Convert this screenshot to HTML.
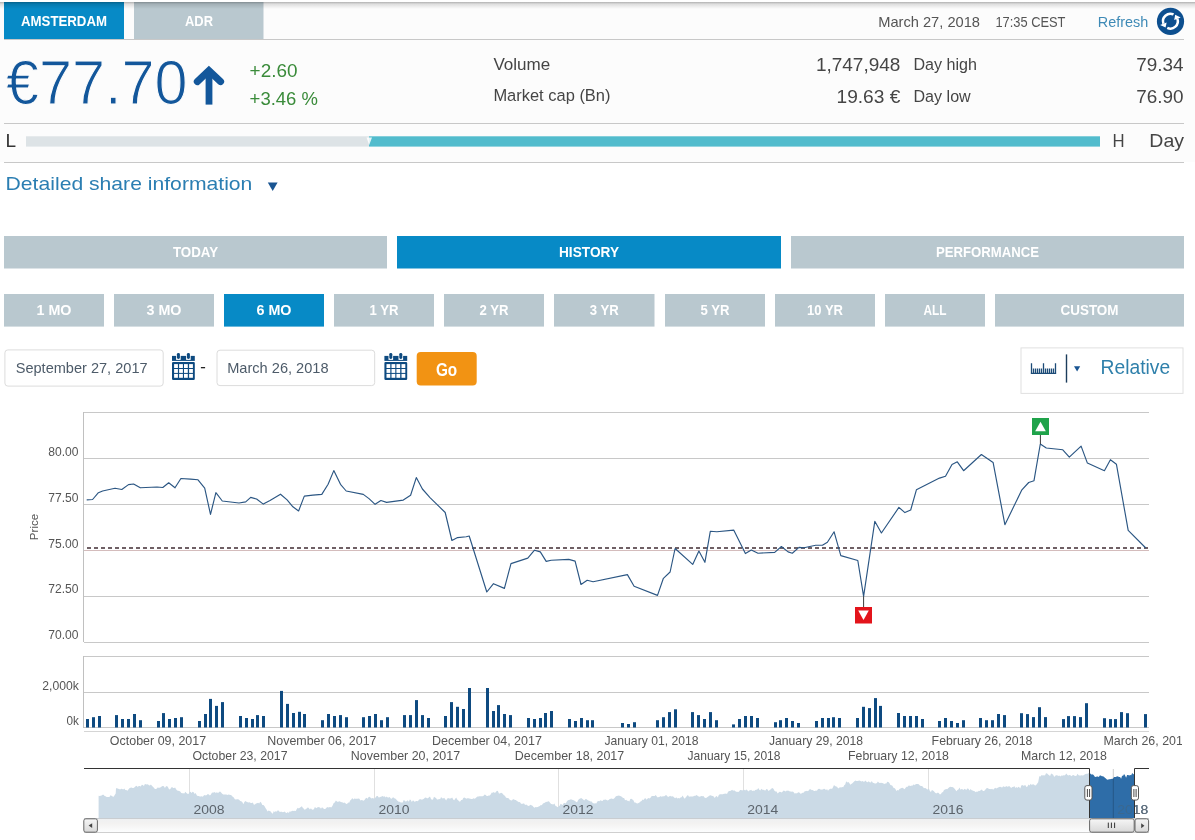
<!DOCTYPE html>
<html><head><meta charset="utf-8"><title>Share price</title>
<style>
html,body{margin:0;padding:0;background:#fff;width:1195px;height:840px;overflow:hidden;}
svg{display:block;font-family:"Liberation Sans", sans-serif;will-change:transform;}
</style></head><body>
<svg width="1195" height="840" viewBox="0 0 1195 840">
<defs>
<linearGradient id="shadow" x1="0" y1="0" x2="0" y2="1"><stop offset="0" stop-color="#000" stop-opacity="0.3"/><stop offset="0.3" stop-color="#000" stop-opacity="0.12"/><stop offset="1" stop-color="#000" stop-opacity="0"/></linearGradient>
<linearGradient id="track" x1="0" y1="0" x2="0" y2="1"><stop offset="0" stop-color="#eef0f2"/><stop offset="0.4" stop-color="#f3f2f1"/><stop offset="1" stop-color="#fcfdfe"/></linearGradient>
<linearGradient id="thumb" x1="0" y1="0" x2="0" y2="1"><stop offset="0" stop-color="#f6f6f6"/><stop offset="1" stop-color="#d8d8d8"/></linearGradient>
</defs>
<rect width="1195" height="840" fill="#fff"/>
<rect x="0" y="2" width="1195" height="160" fill="#fcfcfc"/>
<rect x="4" y="2" width="120" height="37" fill="#078ac6"/>
<text x="64" y="26" font-size="14.2" fill="#fff" font-weight="bold" text-anchor="middle" textLength="86" lengthAdjust="spacingAndGlyphs" >AMSTERDAM</text>
<rect x="134" y="2" width="129.5" height="37" fill="#b9c8cf"/>
<text x="199" y="26" font-size="14.2" fill="#fff" font-weight="bold" text-anchor="middle" textLength="28" lengthAdjust="spacingAndGlyphs" >ADR</text>
<rect x="0" y="2" width="1195" height="7" fill="url(#shadow)"/>
<text x="878.2" y="27.2" font-size="14.5" fill="#555" font-weight="normal" text-anchor="start" textLength="101.8" lengthAdjust="spacingAndGlyphs" >March 27, 2018</text>
<text x="995.4" y="27.2" font-size="14.5" fill="#555" font-weight="normal" text-anchor="start" textLength="70.1" lengthAdjust="spacingAndGlyphs" >17:35 CEST</text>
<text x="1097.8" y="26.5" font-size="14.4" fill="#3e8ab6" font-weight="normal" text-anchor="start" textLength="50.5" lengthAdjust="spacingAndGlyphs" >Refresh</text>
<circle cx="1170.5" cy="21.4" r="13.6" fill="#0d4f8f"/>
<g fill="none" stroke="#fff" stroke-width="2.5"><path d="M1173.53 14.49 A7.4 7.4 0 0 0 1163.45 23.73"/><path d="M1167.27 27.91 A7.4 7.4 0 0 0 1177.35 18.67"/></g>
<path d="M1166.6 22.4 L1160.1 24.9 L1165.6 27.6 Z" fill="#fff"/>
<path d="M1174.2 20.0 L1180.7 17.5 L1175.2 14.8 Z" fill="#fff"/>
<rect x="4" y="39" width="1180" height="1" fill="#c8c8c8"/>
<text x="6" y="103.9" font-size="63" fill="#13579b" font-weight="normal" text-anchor="start" textLength="181.6" lengthAdjust="spacingAndGlyphs" stroke="#fcfcfc" stroke-width="1.1">€77.70</text>
<rect x="205.6" y="73" width="6.8" height="31.6" fill="#13579b"/>
<path d="M197.3 81.6 L208.9 70.6 L220.6 81.6" fill="none" stroke="#13579b" stroke-width="7" stroke-linecap="round" stroke-linejoin="miter"/>
<text x="249.6" y="76.8" font-size="19" fill="#3a8b3a" font-weight="normal" text-anchor="start" textLength="47.9" lengthAdjust="spacingAndGlyphs" >+2.60</text>
<text x="249.6" y="104.9" font-size="19" fill="#3a8b3a" font-weight="normal" text-anchor="start" textLength="68.3" lengthAdjust="spacingAndGlyphs" >+3.46 %</text>
<text x="493.4" y="69.8" font-size="16.3" fill="#454545" font-weight="normal" text-anchor="start" textLength="56.9" lengthAdjust="spacingAndGlyphs" >Volume</text>
<text x="493.4" y="101.2" font-size="16.3" fill="#454545" font-weight="normal" text-anchor="start" textLength="117.1" lengthAdjust="spacingAndGlyphs" >Market cap (Bn)</text>
<text x="900.4" y="70.9" font-size="19" fill="#454545" font-weight="normal" text-anchor="end" textLength="84.5" lengthAdjust="spacingAndGlyphs" >1,747,948</text>
<text x="900.4" y="102.7" font-size="19" fill="#454545" font-weight="normal" text-anchor="end" textLength="63.9" lengthAdjust="spacingAndGlyphs" >19.63 €</text>
<text x="913.5" y="70.1" font-size="16.3" fill="#454545" font-weight="normal" text-anchor="start" textLength="63.5" lengthAdjust="spacingAndGlyphs" >Day high</text>
<text x="913.5" y="101.5" font-size="16.3" fill="#454545" font-weight="normal" text-anchor="start" textLength="57.2" lengthAdjust="spacingAndGlyphs" >Day low</text>
<text x="1183.6" y="71.1" font-size="19" fill="#454545" font-weight="normal" text-anchor="end" textLength="47.3" lengthAdjust="spacingAndGlyphs" >79.34</text>
<text x="1183.6" y="102.9" font-size="19" fill="#454545" font-weight="normal" text-anchor="end" textLength="47.3" lengthAdjust="spacingAndGlyphs" >76.90</text>
<rect x="4" y="123" width="1180" height="1" fill="#c8c8c8"/>
<text x="5.6" y="147" font-size="19" fill="#333" font-weight="normal" text-anchor="start" >L</text>
<rect x="26" y="136.3" width="343" height="10.3" fill="#dde3e6"/>
<rect x="369" y="136.3" width="731" height="10.3" fill="#52bccd"/>
<path d="M366.5 137.5 L372 137.5 L369.2 145 Z" fill="#fff" opacity="0.85"/>
<text x="1112.5" y="147" font-size="19" fill="#454545" font-weight="normal" text-anchor="start" textLength="12.1" lengthAdjust="spacingAndGlyphs" >H</text>
<text x="1149.3" y="147" font-size="19" fill="#454545" font-weight="normal" text-anchor="start" textLength="34.7" lengthAdjust="spacingAndGlyphs" >Day</text>
<rect x="4" y="162" width="1180" height="1" fill="#c8c8c8"/>
<text x="5.6" y="190.4" font-size="19" fill="#2b7eb2" font-weight="normal" text-anchor="start" textLength="246.8" lengthAdjust="spacingAndGlyphs" >Detailed share information</text>
<path d="M267.8 182.4 L277.6 182.4 L272.7 191.1 Z" fill="#1a5592"/>
<rect x="4" y="236" width="383" height="32.5" fill="#b9c8cf"/>
<text x="195.5" y="256.8" font-size="14.2" fill="#fff" font-weight="bold" text-anchor="middle" textLength="45.2" lengthAdjust="spacingAndGlyphs" >TODAY</text>
<rect x="397" y="236" width="384" height="32.5" fill="#078ac6"/>
<text x="589.0" y="256.8" font-size="14.2" fill="#fff" font-weight="bold" text-anchor="middle" textLength="60" lengthAdjust="spacingAndGlyphs" >HISTORY</text>
<rect x="791" y="236" width="393" height="32.5" fill="#b9c8cf"/>
<text x="987.5" y="256.8" font-size="14.2" fill="#fff" font-weight="bold" text-anchor="middle" textLength="103" lengthAdjust="spacingAndGlyphs" >PERFORMANCE</text>
<rect x="4" y="294" width="100" height="32.60000000000002" fill="#b9c8cf"/>
<text x="54.0" y="314.9" font-size="14.2" fill="#fff" font-weight="bold" text-anchor="middle" textLength="35" lengthAdjust="spacingAndGlyphs" >1 MO</text>
<rect x="114" y="294" width="100" height="32.60000000000002" fill="#b9c8cf"/>
<text x="164.0" y="314.9" font-size="14.2" fill="#fff" font-weight="bold" text-anchor="middle" textLength="35" lengthAdjust="spacingAndGlyphs" >3 MO</text>
<rect x="224" y="294" width="100" height="32.60000000000002" fill="#078ac6"/>
<text x="274.0" y="314.9" font-size="14.2" fill="#fff" font-weight="bold" text-anchor="middle" textLength="35" lengthAdjust="spacingAndGlyphs" >6 MO</text>
<rect x="334" y="294" width="100" height="32.60000000000002" fill="#b9c8cf"/>
<text x="384.0" y="314.9" font-size="14.2" fill="#fff" font-weight="bold" text-anchor="middle" textLength="29" lengthAdjust="spacingAndGlyphs" >1 YR</text>
<rect x="444" y="294" width="100" height="32.60000000000002" fill="#b9c8cf"/>
<text x="494.0" y="314.9" font-size="14.2" fill="#fff" font-weight="bold" text-anchor="middle" textLength="29" lengthAdjust="spacingAndGlyphs" >2 YR</text>
<rect x="554" y="294" width="100.5" height="32.60000000000002" fill="#b9c8cf"/>
<text x="604.2" y="314.9" font-size="14.2" fill="#fff" font-weight="bold" text-anchor="middle" textLength="29" lengthAdjust="spacingAndGlyphs" >3 YR</text>
<rect x="665" y="294" width="100" height="32.60000000000002" fill="#b9c8cf"/>
<text x="715.0" y="314.9" font-size="14.2" fill="#fff" font-weight="bold" text-anchor="middle" textLength="29" lengthAdjust="spacingAndGlyphs" >5 YR</text>
<rect x="775" y="294" width="100" height="32.60000000000002" fill="#b9c8cf"/>
<text x="825.0" y="314.9" font-size="14.2" fill="#fff" font-weight="bold" text-anchor="middle" textLength="36" lengthAdjust="spacingAndGlyphs" >10 YR</text>
<rect x="885" y="294" width="100" height="32.60000000000002" fill="#b9c8cf"/>
<text x="935.0" y="314.9" font-size="14.2" fill="#fff" font-weight="bold" text-anchor="middle" textLength="23" lengthAdjust="spacingAndGlyphs" >ALL</text>
<rect x="995" y="294" width="189" height="32.60000000000002" fill="#b9c8cf"/>
<text x="1089.5" y="314.9" font-size="14.2" fill="#fff" font-weight="bold" text-anchor="middle" textLength="58" lengthAdjust="spacingAndGlyphs" >CUSTOM</text>
<rect x="4.9" y="349.9" width="158.3" height="36.2" rx="3" fill="#fff" stroke="#dcdcdc" stroke-width="1"/>
<text x="15.7" y="373.1" font-size="14.6" fill="#4d5b69" font-weight="normal" text-anchor="start" textLength="131.9" lengthAdjust="spacingAndGlyphs" >September 27, 2017</text>
<rect x="217" y="350.2" width="157.7" height="35.4" rx="3" fill="#fff" stroke="#dcdcdc" stroke-width="1"/>
<text x="227.2" y="373.1" font-size="14.6" fill="#4d5b69" font-weight="normal" text-anchor="start" textLength="101.4" lengthAdjust="spacingAndGlyphs" >March 26, 2018</text>
<rect x="172" y="355.9" width="22.8" height="5" fill="#0d4a80"/><rect x="176.1" y="353.9" width="4.6" height="6" fill="#fff"/><rect x="176.9" y="352.9" width="3" height="6" rx="1.4" fill="#0d4a80"/><rect x="186.1" y="353.9" width="4.6" height="6" fill="#fff"/><rect x="186.9" y="352.9" width="3" height="6" rx="1.4" fill="#0d4a80"/><rect x="172" y="361.9" width="22.8" height="18" rx="1.2" fill="#0d4a80"/><rect x="174.1" y="364.09999999999997" width="3.8" height="3.9" fill="#fff"/><rect x="174.1" y="369.0" width="3.8" height="3.9" fill="#fff"/><rect x="174.1" y="373.9" width="3.8" height="3.9" fill="#fff"/><rect x="179.1" y="364.09999999999997" width="3.8" height="3.9" fill="#fff"/><rect x="179.1" y="369.0" width="3.8" height="3.9" fill="#fff"/><rect x="179.1" y="373.9" width="3.8" height="3.9" fill="#fff"/><rect x="184.0" y="364.09999999999997" width="3.8" height="3.9" fill="#fff"/><rect x="184.0" y="369.0" width="3.8" height="3.9" fill="#fff"/><rect x="184.0" y="373.9" width="3.8" height="3.9" fill="#fff"/><rect x="189.1" y="364.09999999999997" width="3.8" height="3.9" fill="#fff"/><rect x="189.1" y="369.0" width="3.8" height="3.9" fill="#fff"/><rect x="189.1" y="373.9" width="3.8" height="3.9" fill="#fff"/>
<rect x="384.4" y="355.9" width="22.8" height="5" fill="#0d4a80"/><rect x="388.49999999999994" y="353.9" width="4.6" height="6" fill="#fff"/><rect x="389.29999999999995" y="352.9" width="3" height="6" rx="1.4" fill="#0d4a80"/><rect x="398.49999999999994" y="353.9" width="4.6" height="6" fill="#fff"/><rect x="399.29999999999995" y="352.9" width="3" height="6" rx="1.4" fill="#0d4a80"/><rect x="384.4" y="361.9" width="22.8" height="18" rx="1.2" fill="#0d4a80"/><rect x="386.5" y="364.09999999999997" width="3.8" height="3.9" fill="#fff"/><rect x="386.5" y="369.0" width="3.8" height="3.9" fill="#fff"/><rect x="386.5" y="373.9" width="3.8" height="3.9" fill="#fff"/><rect x="391.5" y="364.09999999999997" width="3.8" height="3.9" fill="#fff"/><rect x="391.5" y="369.0" width="3.8" height="3.9" fill="#fff"/><rect x="391.5" y="373.9" width="3.8" height="3.9" fill="#fff"/><rect x="396.4" y="364.09999999999997" width="3.8" height="3.9" fill="#fff"/><rect x="396.4" y="369.0" width="3.8" height="3.9" fill="#fff"/><rect x="396.4" y="373.9" width="3.8" height="3.9" fill="#fff"/><rect x="401.5" y="364.09999999999997" width="3.8" height="3.9" fill="#fff"/><rect x="401.5" y="369.0" width="3.8" height="3.9" fill="#fff"/><rect x="401.5" y="373.9" width="3.8" height="3.9" fill="#fff"/>
<rect x="200.9" y="367" width="4.2" height="1.3" fill="#222"/>
<rect x="416.7" y="352.1" width="60" height="33.5" rx="4" fill="#f29313"/>
<text x="446.6" y="376.2" font-size="17.5" fill="#fff" font-weight="bold" text-anchor="middle" textLength="21.3" lengthAdjust="spacingAndGlyphs" >Go</text>
<rect x="1021" y="347.9" width="162" height="45.5" fill="#fff" stroke="#e0e0e0" stroke-width="1"/>
<path d="M1030.8 373.4 H1056.2 M1031.5 363.2 V373.4 M1033.5 368.4 V373.4 M1035.5 368.4 V373.4 M1037.5 368.4 V373.4 M1039.5 368.4 V373.4 M1041.5 368.4 V373.4 M1043.5 363.2 V373.4 M1045.5 368.4 V373.4 M1047.5 368.4 V373.4 M1049.5 368.4 V373.4 M1051.5 368.4 V373.4 M1053.5 368.4 V373.4 M1055.5 363.2 V373.4" stroke="#1c4b77" stroke-width="1.3" fill="none"/>
<rect x="1065.8" y="354.4" width="1.4" height="28.2" fill="#1c3c5c"/>
<path d="M1074 366.2 L1080.2 366.2 L1077.1 371.5 Z" fill="#1a5592"/>
<text x="1100.6" y="373.7" font-size="19.3" fill="#2f80ab" font-weight="normal" text-anchor="start" textLength="69.6" lengthAdjust="spacingAndGlyphs" >Relative</text>
<rect x="84" y="412" width="1065" height="1" fill="#c8c8c8"/>
<rect x="84" y="458" width="1065" height="1" fill="#c8c8c8"/>
<rect x="84" y="504" width="1065" height="1" fill="#c8c8c8"/>
<rect x="84" y="596" width="1065" height="1" fill="#c8c8c8"/>
<rect x="84" y="642" width="1065" height="1" fill="#c8c8c8"/>
<rect x="84" y="550" width="1065" height="1" fill="#d4bcbc"/>
<rect x="83" y="412" width="1" height="230" fill="#c0c0c0"/>
<text x="78.5" y="455.7" font-size="12" fill="#555" font-weight="normal" text-anchor="end" textLength="30.2" lengthAdjust="spacingAndGlyphs" >80.00</text>
<text x="78.5" y="501.6" font-size="12" fill="#555" font-weight="normal" text-anchor="end" textLength="30.2" lengthAdjust="spacingAndGlyphs" >77.50</text>
<text x="78.5" y="547.5" font-size="12" fill="#555" font-weight="normal" text-anchor="end" textLength="30.2" lengthAdjust="spacingAndGlyphs" >75.00</text>
<text x="78.5" y="593.4" font-size="12" fill="#555" font-weight="normal" text-anchor="end" textLength="30.2" lengthAdjust="spacingAndGlyphs" >72.50</text>
<text x="78.5" y="639.3" font-size="12" fill="#555" font-weight="normal" text-anchor="end" textLength="30.2" lengthAdjust="spacingAndGlyphs" >70.00</text>
<text x="0" y="0" font-size="11.6" fill="#555" text-anchor="middle" textLength="26.4" lengthAdjust="spacingAndGlyphs" transform="translate(37.9 527) rotate(-90)">Price</text>
<line x1="87" y1="548" x2="1149" y2="548" stroke="#6f6065" stroke-width="2" stroke-dasharray="4 3"/>
<path d="M86.7 499.9 L92.6 499.5 L98.4 492.7 L102.6 491 L109.3 489.5 L115.1 488.3 L121.8 489.5 L128.5 484.6 L133.6 484 L140.3 487.8 L157 487 L162.8 487.5 L168.7 482.8 L175 487.8 L180.9 478.5 L190.5 479.1 L198 479.8 L204.7 488.2 L210.5 514.4 L215.9 492.7 L222.3 501 L239 503 L245.7 501.9 L250.7 497.4 L256.6 499 L263.3 504.1 L270 500.5 L280.5 494.2 L287.1 499.9 L292.9 506.8 L298.6 511 L304.3 496.1 L312.9 495.1 L321.8 494.4 L328.1 484.3 L333.8 470.6 L340.5 484.3 L346.2 491 L363.3 494.4 L369 498.6 L375.1 504.3 L380.9 500.5 L386.6 502.4 L403.3 500.1 L410.6 495.3 L416.3 477.6 L422.4 489 L430 497.6 L445.2 512.5 L451.9 540.5 L457.6 537.6 L466.2 536.7 L469.2 536 L486.8 592 L493.5 583.7 L504.4 588.4 L511 563.6 L527.8 558.1 L534.5 550.2 L540.3 551.9 L546.2 561.4 L551.2 560.3 L568.8 559.4 L575.1 561.1 L581 584.5 L587.2 580.3 L593.1 581.7 L627.4 574.6 L634.1 586.2 L657.5 595.4 L663.4 578.3 L670.1 572 L675.1 548.5 L692.7 564.4 L698.9 551 L704.9 562.3 L710.3 531.3 L716.9 531.8 L733.7 530.1 L745.4 553.6 L751.3 549.9 L758 553.2 L774.7 552.4 L781.4 546.5 L788.1 551.9 L792.3 553.2 L799 547.4 L804 547.7 L815.7 545.2 L822.4 545.2 L827.4 542.2 L834.1 531.8 L840.8 555.6 L857.8 560.5 L863.6 596.4 L874.8 521.3 L881.4 533 L898.9 507.4 L904.9 512.6 L910.7 510 L916.4 489.8 L939.5 478.1 L945.5 476.2 L952 464.5 L957.3 461.8 L963.6 470.7 L981.4 454.5 L993.1 462.4 L1004.9 524.7 L1021.9 489.8 L1028.7 482.5 L1034 480.7 L1040.3 444 L1046.3 448 L1062.8 449.8 L1069.3 457.1 L1081.1 446.1 L1087.4 463.1 L1104.4 470.7 L1110.4 459.7 L1116.4 464.2 L1128.2 530.4 L1145.8 548" fill="none" stroke="#2b5683" stroke-width="1.15" stroke-linejoin="round"/>
<line x1="863.6" y1="596.4" x2="863.6" y2="607" stroke="#3a3a3a" stroke-width="1"/>
<rect x="855" y="607" width="17" height="16.5" fill="#e3141b"/>
<path d="M858.2 610.6 L868.8 610.6 L863.5 620 Z" fill="#fff"/>
<line x1="1040.4" y1="435" x2="1040.4" y2="444" stroke="#3a3a3a" stroke-width="1"/>
<rect x="1032" y="418" width="17" height="17" fill="#1fa34a"/>
<path d="M1035.2 431.2 L1045.8 431.2 L1040.5 421.8 Z" fill="#fff"/>
<rect x="84" y="656" width="1065" height="1" fill="#c8c8c8"/>
<rect x="84" y="692" width="1065" height="1" fill="#c8c8c8"/>
<rect x="84" y="727" width="1065" height="1" fill="#c8c8c8"/>
<rect x="84" y="731" width="1065" height="1" fill="#d5d5d5"/>
<rect x="83" y="656" width="1" height="72" fill="#c0c0c0"/>
<text x="78.9" y="689.6" font-size="12" fill="#555" font-weight="normal" text-anchor="end" textLength="36.6" lengthAdjust="spacingAndGlyphs" >2,000k</text>
<text x="78.9" y="724.6" font-size="12" fill="#555" font-weight="normal" text-anchor="end" textLength="12.4" lengthAdjust="spacingAndGlyphs" >0k</text>
<g fill="#0e4a80"><rect x="86" y="719" width="3" height="8.5"/><rect x="92" y="717.2" width="3" height="10.3"/><rect x="98" y="716" width="3" height="11.5"/><rect x="115" y="715.1" width="3" height="12.4"/><rect x="121" y="719" width="3" height="8.5"/><rect x="127" y="719" width="3" height="8.5"/><rect x="133" y="714" width="3" height="13.5"/><rect x="139" y="720.2" width="3" height="7.3"/><rect x="157" y="721" width="3" height="6.5"/><rect x="162" y="713.1" width="3" height="14.4"/><rect x="168" y="719" width="3" height="8.5"/><rect x="174" y="718" width="3" height="9.5"/><rect x="180" y="717.2" width="3" height="10.3"/><rect x="198" y="721" width="3" height="6.5"/><rect x="204" y="714" width="3" height="13.5"/><rect x="209" y="698.9" width="3" height="28.6"/><rect x="215" y="705.9" width="3" height="21.6"/><rect x="221" y="702.1" width="3" height="25.4"/><rect x="239" y="716" width="3" height="11.5"/><rect x="245" y="718" width="3" height="9.5"/><rect x="251" y="719" width="3" height="8.5"/><rect x="256" y="715.1" width="3" height="12.4"/><rect x="262" y="716" width="3" height="11.5"/><rect x="280" y="690.9" width="3" height="36.6"/><rect x="286" y="703.9" width="3" height="23.6"/><rect x="292" y="713" width="3" height="14.5"/><rect x="298" y="711.8" width="3" height="15.7"/><rect x="303" y="714" width="3" height="13.5"/><rect x="321" y="720.2" width="3" height="7.3"/><rect x="327" y="714" width="3" height="13.5"/><rect x="333" y="716" width="3" height="11.5"/><rect x="339" y="715.1" width="3" height="12.4"/><rect x="345" y="717.2" width="3" height="10.3"/><rect x="362" y="717.2" width="3" height="10.3"/><rect x="368" y="716" width="3" height="11.5"/><rect x="374" y="714" width="3" height="13.5"/><rect x="380" y="720.2" width="3" height="7.3"/><rect x="386" y="717.2" width="3" height="10.3"/><rect x="403" y="715.1" width="3" height="12.4"/><rect x="409" y="715.1" width="3" height="12.4"/><rect x="415" y="700.1" width="3" height="27.4"/><rect x="421" y="715.1" width="3" height="12.4"/><rect x="427" y="718" width="3" height="9.5"/><rect x="444" y="716" width="3" height="11.5"/><rect x="450" y="702.1" width="3" height="25.4"/><rect x="456" y="706.8" width="3" height="20.7"/><rect x="462" y="709" width="3" height="18.5"/><rect x="468" y="688" width="3" height="39.5"/><rect x="486" y="688" width="3" height="39.5"/><rect x="492" y="711" width="3" height="16.5"/><rect x="497" y="705.1" width="3" height="22.4"/><rect x="503" y="714" width="3" height="13.5"/><rect x="509" y="715.1" width="3" height="12.4"/><rect x="527" y="718" width="3" height="9.5"/><rect x="533" y="719" width="3" height="8.5"/><rect x="539" y="718" width="3" height="9.5"/><rect x="544" y="713" width="3" height="14.5"/><rect x="550" y="711" width="3" height="16.5"/><rect x="568" y="719" width="3" height="8.5"/><rect x="574" y="721" width="3" height="6.5"/><rect x="580" y="718" width="3" height="9.5"/><rect x="586" y="720.2" width="3" height="7.3"/><rect x="591" y="720.2" width="3" height="7.3"/><rect x="621" y="723" width="3" height="4.5"/><rect x="627" y="724" width="3" height="3.5"/><rect x="633" y="722.2" width="3" height="5.3"/><rect x="656" y="720.2" width="3" height="7.3"/><rect x="662" y="717.2" width="3" height="10.3"/><rect x="668" y="712.1" width="3" height="15.4"/><rect x="674" y="709.3" width="3" height="18.2"/><rect x="691" y="712.1" width="3" height="15.4"/><rect x="697" y="715.1" width="3" height="12.4"/><rect x="703" y="719" width="3" height="8.5"/><rect x="709" y="712.1" width="3" height="15.4"/><rect x="715" y="720.2" width="3" height="7.3"/><rect x="732" y="724.4" width="3" height="3.1"/><rect x="738" y="719" width="3" height="8.5"/><rect x="744" y="716" width="3" height="11.5"/><rect x="750" y="716" width="3" height="11.5"/><rect x="756" y="718" width="3" height="9.5"/><rect x="774" y="722.2" width="3" height="5.3"/><rect x="779" y="720.2" width="3" height="7.3"/><rect x="785" y="718" width="3" height="9.5"/><rect x="791" y="721" width="3" height="6.5"/><rect x="797" y="723" width="3" height="4.5"/><rect x="815" y="721" width="3" height="6.5"/><rect x="821" y="718" width="3" height="9.5"/><rect x="827" y="718" width="3" height="9.5"/><rect x="832" y="717.2" width="3" height="10.3"/><rect x="838" y="718" width="3" height="9.5"/><rect x="856" y="718" width="3" height="9.5"/><rect x="862" y="706.8" width="3" height="20.7"/><rect x="868" y="708.1" width="3" height="19.4"/><rect x="874" y="698.1" width="3" height="29.4"/><rect x="879" y="705.9" width="3" height="21.6"/><rect x="897" y="713" width="3" height="14.5"/><rect x="903" y="716" width="3" height="11.5"/><rect x="909" y="716" width="3" height="11.5"/><rect x="915" y="716" width="3" height="11.5"/><rect x="921" y="719" width="3" height="8.5"/><rect x="938" y="721" width="3" height="6.5"/><rect x="944" y="718" width="3" height="9.5"/><rect x="950" y="721" width="3" height="6.5"/><rect x="956" y="723" width="3" height="4.5"/><rect x="962" y="720.2" width="3" height="7.3"/><rect x="979" y="718" width="3" height="9.5"/><rect x="985" y="720.2" width="3" height="7.3"/><rect x="991" y="720.2" width="3" height="7.3"/><rect x="997" y="714" width="3" height="13.5"/><rect x="1003" y="715.1" width="3" height="12.4"/><rect x="1020" y="713.2" width="3" height="14.3"/><rect x="1026" y="714.1" width="3" height="13.4"/><rect x="1032" y="717.1" width="3" height="10.4"/><rect x="1038" y="707.2" width="3" height="20.3"/><rect x="1044" y="717.1" width="3" height="10.4"/><rect x="1062" y="719.1" width="3" height="8.4"/><rect x="1067" y="716.1" width="3" height="11.4"/><rect x="1073" y="716.1" width="3" height="11.4"/><rect x="1079" y="717.1" width="3" height="10.4"/><rect x="1085" y="703.2" width="3" height="24.3"/><rect x="1103" y="718.2" width="3" height="9.3"/><rect x="1109" y="719.1" width="3" height="8.4"/><rect x="1114" y="719.1" width="3" height="8.4"/><rect x="1120" y="712.1" width="3" height="15.4"/><rect x="1126" y="713.2" width="3" height="14.3"/><rect x="1144" y="714.1" width="3" height="13.4"/></g>
<text x="158" y="745" font-size="12.4" fill="#555" font-weight="normal" text-anchor="middle" textLength="96.3" lengthAdjust="spacingAndGlyphs" >October 09, 2017</text>
<text x="321.9" y="745" font-size="12.4" fill="#555" font-weight="normal" text-anchor="middle" textLength="109.3" lengthAdjust="spacingAndGlyphs" >November 06, 2017</text>
<text x="487" y="745" font-size="12.4" fill="#555" font-weight="normal" text-anchor="middle" textLength="109.8" lengthAdjust="spacingAndGlyphs" >December 04, 2017</text>
<text x="651.5" y="745" font-size="12.4" fill="#555" font-weight="normal" text-anchor="middle" textLength="94" lengthAdjust="spacingAndGlyphs" >January 01, 2018</text>
<text x="816" y="745" font-size="12.4" fill="#555" font-weight="normal" text-anchor="middle" textLength="94" lengthAdjust="spacingAndGlyphs" >January 29, 2018</text>
<text x="982" y="745" font-size="12.4" fill="#555" font-weight="normal" text-anchor="middle" textLength="100.8" lengthAdjust="spacingAndGlyphs" >February 26, 2018</text>
<text x="240" y="759.6" font-size="12.4" fill="#555" font-weight="normal" text-anchor="middle" textLength="95" lengthAdjust="spacingAndGlyphs" >October 23, 2017</text>
<text x="405.5" y="759.6" font-size="12.4" fill="#555" font-weight="normal" text-anchor="middle" textLength="109.3" lengthAdjust="spacingAndGlyphs" >November 20, 2017</text>
<text x="569.5" y="759.6" font-size="12.4" fill="#555" font-weight="normal" text-anchor="middle" textLength="109.4" lengthAdjust="spacingAndGlyphs" >December 18, 2017</text>
<text x="734" y="759.6" font-size="12.4" fill="#555" font-weight="normal" text-anchor="middle" textLength="93" lengthAdjust="spacingAndGlyphs" >January 15, 2018</text>
<text x="898.5" y="759.6" font-size="12.4" fill="#555" font-weight="normal" text-anchor="middle" textLength="100.9" lengthAdjust="spacingAndGlyphs" >February 12, 2018</text>
<text x="1064" y="759.6" font-size="12.4" fill="#555" font-weight="normal" text-anchor="middle" textLength="85.9" lengthAdjust="spacingAndGlyphs" >March 12, 2018</text>
<clipPath id="lblclip"><rect x="0" y="700" width="1182" height="80"/></clipPath>
<text x="1103.5" y="745" font-size="12.4" fill="#555" font-weight="normal" text-anchor="start" textLength="86.3" lengthAdjust="spacingAndGlyphs" clip-path="url(#lblclip)">March 26, 2018</text>
<rect x="189" y="769" width="1" height="49" fill="#e0e0e0"/>
<rect x="374" y="769" width="1" height="49" fill="#e0e0e0"/>
<rect x="558" y="769" width="1" height="49" fill="#e0e0e0"/>
<rect x="743" y="769" width="1" height="49" fill="#e0e0e0"/>
<rect x="928" y="769" width="1" height="49" fill="#e0e0e0"/>
<path d="M98.6 818 L98.6 795.7 L99.6 796.0 L100.6 795.7 L101.6 795.4 L102.6 794.7 L103.6 794.7 L104.6 796.0 L105.6 796.3 L106.6 797.1 L107.7 797.0 L108.7 797.0 L109.7 796.8 L110.7 795.1 L111.7 796.0 L112.7 796.4 L113.7 796.7 L114.7 794.9 L115.7 793.5 L116.0 788.2 L117.0 788.2 L118.1 788.8 L119.1 788.9 L120.1 789.5 L121.2 788.8 L122.2 789.1 L123.2 789.4 L124.3 788.6 L125.3 790.1 L126.3 790.1 L127.4 790.7 L128.4 789.4 L129.4 788.3 L130.4 787.8 L131.5 787.5 L132.5 788.0 L133.5 787.9 L134.6 787.2 L135.6 786.2 L136.6 785.8 L137.7 787.0 L138.7 786.0 L139.7 786.1 L140.8 786.4 L141.8 784.8 L142.8 784.9 L143.9 786.1 L144.9 784.0 L145.9 784.2 L146.9 784.6 L147.9 784.3 L148.9 785.3 L149.9 785.5 L150.9 784.5 L151.9 785.8 L152.9 786.7 L153.9 787.7 L154.9 788.9 L155.9 788.9 L156.9 788.6 L157.9 787.2 L158.9 788.0 L159.9 787.4 L160.9 787.2 L161.9 786.3 L162.9 786.0 L163.9 786.2 L164.9 788.0 L165.9 786.4 L166.9 786.0 L167.9 787.0 L168.9 788.9 L169.9 789.6 L171.0 787.9 L172.0 786.8 L173.0 788.0 L174.1 787.9 L175.1 787.5 L176.1 789.2 L177.1 790.5 L178.2 790.8 L179.2 791.1 L180.2 791.5 L181.3 792.9 L182.3 793.2 L183.3 793.3 L184.3 793.5 L185.4 791.7 L186.4 793.0 L187.4 793.7 L188.5 793.9 L189.5 791.9 L190.5 791.8 L191.6 793.1 L192.6 791.8 L193.6 792.3 L194.7 793.9 L195.7 793.1 L196.7 795.2 L197.7 795.9 L198.8 795.9 L199.8 796.4 L200.8 796.6 L201.8 796.2 L202.8 796.8 L203.8 795.6 L204.8 794.9 L205.8 795.6 L206.8 795.1 L207.8 793.9 L208.9 794.6 L209.9 795.6 L210.9 794.5 L211.9 792.8 L212.9 792.6 L213.9 792.4 L214.9 792.1 L215.9 793.3 L216.9 792.0 L218.0 793.3 L219.0 792.1 L220.1 791.6 L221.1 792.6 L222.2 793.8 L223.2 794.5 L224.3 794.6 L225.3 794.5 L226.4 794.5 L227.4 794.9 L228.5 794.5 L229.5 794.7 L230.6 795.1 L231.7 795.5 L232.7 796.7 L233.8 797.5 L234.8 799.2 L235.9 799.6 L237.0 799.3 L238.0 799.3 L239.1 799.8 L240.2 801.1 L241.2 801.2 L242.3 802.1 L243.3 804.2 L244.4 802.0 L245.5 801.1 L246.5 801.7 L247.6 802.3 L248.6 802.6 L249.7 802.2 L250.7 802.9 L251.8 803.1 L252.8 802.5 L253.9 804.7 L254.9 804.5 L256.0 803.5 L257.0 803.2 L258.1 802.8 L259.2 803.5 L260.2 801.8 L261.3 802.8 L262.3 805.0 L263.4 804.9 L264.4 806.1 L265.5 808.1 L266.5 809.6 L267.6 811.6 L268.6 810.4 L269.7 810.9 L270.7 811.5 L271.8 813.0 L272.8 813.8 L273.8 811.0 L274.8 812.2 L275.8 810.9 L276.8 811.7 L277.8 810.3 L278.8 810.8 L279.8 812.0 L280.8 811.7 L281.8 811.7 L282.8 812.2 L283.8 812.0 L284.8 811.6 L285.8 812.7 L286.8 813.0 L287.8 812.1 L288.8 813.1 L289.8 811.3 L290.8 811.7 L291.8 811.0 L292.8 810.7 L293.8 811.0 L294.8 810.8 L295.8 810.9 L296.8 809.1 L297.8 807.7 L298.8 808.5 L299.8 807.7 L300.8 807.1 L301.9 806.3 L302.9 808.0 L303.9 808.7 L304.9 809.9 L305.9 808.7 L306.9 808.5 L307.9 807.3 L308.9 808.2 L309.9 809.5 L310.9 808.2 L311.9 809.5 L313.0 809.8 L314.0 809.1 L315.0 806.8 L316.0 808.2 L317.0 807.8 L318.0 807.0 L319.0 807.3 L320.0 807.6 L321.0 808.7 L322.0 807.2 L323.0 808.0 L324.0 808.9 L325.1 809.1 L326.1 808.2 L327.1 807.0 L328.1 807.6 L329.1 807.3 L330.1 807.0 L331.2 807.5 L332.4 806.1 L333.6 803.2 L334.7 802.6 L335.9 800.6 L337.0 801.4 L338.0 801.9 L339.0 801.3 L340.1 801.4 L341.1 802.2 L342.1 802.1 L343.1 803.1 L344.1 802.6 L345.2 803.1 L346.2 803.9 L347.2 803.8 L348.2 802.4 L349.2 802.7 L350.2 800.4 L351.3 799.4 L352.3 797.9 L353.3 799.4 L354.3 798.4 L355.3 798.7 L356.4 798.7 L357.4 798.8 L358.4 798.4 L359.4 798.8 L360.4 800.4 L361.5 800.1 L362.5 800.2 L363.5 800.7 L364.5 799.9 L365.5 798.4 L366.5 797.8 L367.6 798.8 L368.6 797.1 L369.6 796.7 L370.6 797.8 L371.6 798.4 L372.7 798.1 L373.7 798.6 L374.7 798.4 L375.7 797.2 L376.7 796.0 L377.7 796.0 L378.7 797.4 L379.7 797.2 L380.7 796.8 L381.7 796.6 L382.7 796.0 L383.7 796.7 L384.7 796.3 L385.7 797.4 L386.7 796.5 L387.7 797.6 L388.7 797.6 L389.7 797.0 L390.7 798.4 L391.7 798.7 L392.7 797.4 L393.7 797.6 L394.7 798.6 L395.7 798.8 L396.7 800.1 L397.7 801.0 L398.7 801.7 L399.7 801.7 L400.7 802.6 L401.7 802.6 L402.7 802.4 L403.7 799.9 L404.8 800.8 L405.8 801.7 L406.8 801.0 L407.8 800.2 L408.8 801.8 L409.8 799.6 L410.8 800.0 L411.8 802.0 L412.8 800.4 L413.8 800.7 L414.8 801.9 L415.9 801.0 L416.9 800.9 L417.9 801.2 L418.9 799.7 L419.9 799.3 L420.9 799.3 L421.9 799.8 L422.9 799.3 L423.9 798.8 L424.9 797.7 L425.9 797.4 L426.9 798.3 L428.0 798.2 L429.0 797.3 L430.0 796.5 L431.0 799.1 L432.0 799.7 L433.0 799.6 L434.0 796.8 L435.0 797.6 L436.0 798.0 L437.0 799.5 L438.0 799.4 L439.1 799.0 L440.1 799.2 L441.1 797.1 L442.1 798.3 L443.1 798.5 L444.1 797.8 L445.1 799.1 L446.1 800.5 L447.1 798.7 L448.1 798.0 L449.1 798.4 L450.1 798.6 L451.2 798.2 L452.2 797.4 L453.2 799.6 L454.2 800.3 L455.2 798.8 L456.2 797.6 L457.2 799.5 L458.2 800.2 L459.2 801.4 L460.2 801.4 L461.2 800.0 L462.3 800.0 L463.3 797.9 L464.3 797.5 L465.3 797.9 L466.3 798.7 L467.3 798.2 L468.3 798.2 L469.3 798.6 L470.4 798.8 L471.4 799.1 L472.4 798.9 L473.4 798.2 L474.4 798.7 L475.5 798.3 L476.5 797.2 L477.5 796.4 L478.5 796.4 L479.5 796.3 L480.6 796.3 L481.6 796.2 L482.6 796.2 L483.6 795.8 L484.7 794.5 L485.7 795.0 L486.7 795.9 L487.7 795.9 L488.7 795.4 L489.8 795.5 L490.8 794.2 L491.8 792.4 L492.8 792.7 L493.8 792.0 L494.9 793.0 L495.9 792.0 L496.9 790.7 L497.9 791.0 L498.9 793.4 L499.9 793.5 L500.9 792.8 L501.9 792.9 L502.9 794.1 L503.9 795.2 L504.9 795.7 L505.9 797.4 L506.9 798.0 L507.9 798.0 L508.9 798.5 L509.9 800.0 L510.9 800.3 L511.9 800.6 L512.9 799.3 L513.9 799.3 L514.9 800.1 L515.9 799.9 L516.9 801.0 L517.9 801.5 L518.9 802.3 L519.9 801.9 L520.9 803.5 L522.0 803.9 L523.0 803.4 L524.1 803.5 L525.1 805.1 L526.2 804.5 L527.2 805.3 L528.3 806.0 L529.3 805.8 L530.4 804.7 L531.4 805.2 L532.5 805.8 L533.5 807.1 L534.6 807.8 L535.6 807.1 L536.7 807.3 L537.7 807.0 L538.7 806.5 L539.8 805.9 L540.8 805.1 L541.8 805.3 L542.8 803.7 L543.9 802.9 L544.9 802.8 L546.0 801.8 L547.0 802.1 L548.1 801.3 L549.1 801.6 L550.2 802.9 L551.2 804.0 L552.3 804.3 L553.3 804.4 L554.4 803.5 L555.4 805.8 L556.5 806.3 L557.5 807.3 L558.6 806.4 L559.6 805.8 L560.7 803.8 L561.7 804.5 L562.7 805.1 L563.8 803.0 L564.8 802.9 L565.8 803.4 L566.8 801.5 L567.9 800.3 L568.9 800.0 L569.9 799.7 L571.0 799.3 L572.0 799.7 L573.0 800.0 L574.1 800.6 L575.1 800.9 L576.1 801.9 L577.1 802.2 L578.2 800.1 L579.2 799.1 L580.2 798.5 L581.2 798.1 L582.2 798.7 L583.2 799.4 L584.2 800.4 L585.2 799.3 L586.2 798.9 L587.2 799.8 L588.3 800.4 L589.3 800.8 L590.3 801.4 L591.3 801.3 L592.3 802.6 L593.3 803.3 L594.3 803.6 L595.3 803.3 L596.3 803.6 L597.3 801.4 L598.4 801.0 L599.4 801.3 L600.4 800.3 L601.4 800.8 L602.5 801.0 L603.5 799.7 L604.5 799.7 L605.6 799.5 L606.6 800.0 L607.6 800.4 L608.7 800.1 L609.7 799.0 L610.7 798.7 L611.8 798.5 L612.8 799.0 L613.8 798.8 L614.8 797.7 L615.9 796.3 L616.9 796.0 L617.9 795.8 L619.0 795.4 L620.0 796.1 L621.0 796.3 L622.0 797.0 L623.1 798.0 L624.1 797.9 L625.1 800.3 L626.2 799.8 L627.2 800.8 L628.2 800.7 L629.3 801.5 L630.3 799.0 L631.3 798.7 L632.4 799.4 L633.4 800.3 L634.4 802.5 L635.4 802.5 L636.5 803.3 L637.5 803.5 L638.5 803.1 L639.5 802.6 L640.5 801.5 L641.5 801.1 L642.6 799.4 L643.6 800.0 L644.6 798.4 L645.6 798.2 L646.6 799.7 L647.6 798.6 L648.6 797.9 L649.6 798.4 L650.7 797.6 L651.7 796.1 L652.7 795.9 L653.7 795.9 L654.7 796.0 L655.7 795.0 L656.8 796.6 L657.8 797.5 L658.8 796.9 L659.8 796.7 L660.9 795.9 L661.9 797.0 L662.9 795.9 L663.9 796.4 L665.0 795.7 L666.0 795.0 L667.0 795.8 L668.0 796.9 L669.1 796.5 L670.1 795.7 L671.1 796.4 L672.1 796.2 L673.2 796.4 L674.2 797.6 L675.2 798.2 L676.3 797.2 L677.3 798.6 L678.4 798.0 L679.4 798.4 L680.5 797.4 L681.6 797.2 L682.6 795.6 L683.7 797.6 L684.8 798.7 L685.8 797.3 L686.9 796.0 L687.9 795.0 L689.0 796.7 L690.0 796.5 L691.1 796.6 L692.1 796.5 L693.1 796.5 L694.1 795.7 L695.2 796.1 L696.2 795.1 L697.2 795.5 L698.3 796.2 L699.3 796.8 L700.3 796.6 L701.4 795.9 L702.4 796.3 L703.4 796.0 L704.5 797.6 L705.5 798.1 L706.5 797.7 L707.5 797.0 L708.6 796.3 L709.6 795.6 L710.6 795.3 L711.6 795.7 L712.7 796.1 L713.7 796.4 L714.7 797.9 L715.8 796.5 L716.8 796.0 L717.8 797.6 L718.8 795.0 L719.9 794.3 L720.9 794.3 L721.9 794.2 L722.9 794.3 L724.0 793.8 L725.0 793.8 L726.0 793.6 L727.0 793.9 L728.1 791.8 L729.1 791.0 L730.1 791.1 L731.1 790.4 L732.1 789.7 L733.1 790.7 L734.1 790.3 L735.1 791.1 L736.1 791.7 L737.1 791.8 L738.1 792.0 L739.1 791.5 L740.1 790.0 L741.1 790.1 L742.2 790.5 L743.2 789.9 L744.2 789.8 L745.2 790.5 L746.2 789.5 L747.2 790.0 L748.2 791.5 L749.2 790.5 L750.2 790.2 L751.2 789.8 L752.2 790.9 L753.2 790.6 L754.2 790.9 L755.2 789.9 L756.2 789.7 L757.3 789.6 L758.3 788.0 L759.3 789.7 L760.3 790.5 L761.3 788.8 L762.4 789.7 L763.4 789.7 L764.4 790.2 L765.4 790.5 L766.4 789.1 L767.4 789.2 L768.5 790.9 L769.5 790.3 L770.5 789.5 L771.5 788.6 L772.5 788.0 L773.6 789.0 L774.6 791.1 L775.6 791.5 L776.6 791.6 L777.6 793.5 L778.7 792.5 L779.7 791.7 L780.7 792.1 L781.7 792.5 L782.7 791.4 L783.7 790.5 L784.8 791.1 L785.8 791.5 L786.8 790.5 L787.8 790.8 L788.8 790.7 L789.9 791.5 L790.9 791.6 L791.9 791.8 L792.9 791.6 L793.9 792.6 L794.9 793.7 L795.9 793.0 L796.9 793.5 L797.9 792.4 L798.9 792.3 L799.9 792.9 L800.9 794.0 L801.9 793.1 L802.9 792.7 L803.9 792.6 L804.9 791.0 L805.9 791.2 L806.9 790.7 L807.9 791.2 L808.9 790.3 L809.9 788.9 L810.9 789.6 L811.9 790.3 L812.9 790.0 L813.9 791.1 L814.9 790.9 L815.9 790.4 L816.9 790.8 L817.9 789.2 L818.9 788.8 L819.9 789.0 L820.9 789.8 L821.9 789.5 L822.9 789.6 L823.9 788.8 L825.0 789.0 L826.0 790.3 L827.0 789.1 L828.0 790.8 L829.0 789.4 L830.0 788.9 L831.0 788.6 L832.0 789.0 L833.0 787.3 L834.0 785.1 L835.0 785.9 L836.1 786.5 L837.1 786.8 L838.1 788.5 L839.1 787.8 L840.1 787.2 L841.1 787.4 L842.2 786.9 L843.2 787.2 L844.2 785.2 L845.2 784.4 L846.2 781.3 L847.3 782.4 L848.3 782.1 L849.3 783.0 L850.3 784.7 L851.3 784.0 L852.4 783.2 L853.4 782.2 L854.4 781.2 L855.4 780.5 L856.4 781.1 L857.4 780.9 L858.5 780.8 L859.5 780.4 L860.5 781.0 L861.5 781.4 L862.6 781.1 L863.6 781.7 L864.6 781.4 L865.6 780.4 L866.7 781.9 L867.7 782.2 L868.7 781.2 L869.7 782.3 L870.8 782.5 L871.8 781.0 L872.8 782.7 L873.8 782.9 L874.9 783.6 L875.9 783.5 L876.9 783.1 L877.9 781.6 L879.0 782.8 L880.0 782.9 L881.0 782.7 L882.1 783.1 L883.1 783.2 L884.2 783.9 L885.2 783.5 L886.3 783.5 L887.3 781.7 L888.4 781.9 L889.4 783.0 L890.4 785.1 L891.4 785.2 L892.4 785.7 L893.4 787.8 L894.4 787.9 L895.4 789.0 L896.4 790.9 L897.4 790.1 L898.4 790.5 L899.5 789.0 L900.5 788.6 L901.5 788.1 L902.5 787.8 L903.6 788.4 L904.6 789.2 L905.6 787.8 L906.6 786.7 L907.7 786.8 L908.7 785.4 L909.7 785.8 L910.8 786.0 L911.8 785.4 L912.8 785.6 L913.8 784.2 L914.8 785.3 L915.8 784.0 L916.8 783.9 L917.8 784.0 L918.8 784.3 L919.8 785.6 L920.9 786.0 L921.9 785.9 L922.9 786.7 L923.9 788.3 L924.9 788.1 L925.9 788.3 L926.9 789.3 L927.9 789.5 L928.9 788.4 L929.9 791.1 L930.9 791.9 L931.9 790.0 L932.9 790.4 L933.9 791.2 L934.9 792.5 L935.9 793.3 L936.9 793.2 L937.9 792.5 L938.9 793.2 L939.9 794.6 L940.9 793.9 L941.9 792.5 L943.0 792.1 L944.0 789.9 L945.1 789.6 L946.1 789.1 L947.2 789.3 L948.2 788.3 L949.3 787.2 L950.3 786.7 L951.3 787.1 L952.3 787.0 L953.4 787.5 L954.4 788.6 L955.4 789.8 L956.4 791.2 L957.4 790.1 L958.4 789.6 L959.5 787.4 L960.5 789.7 L961.5 789.1 L962.5 789.3 L963.5 789.9 L964.5 788.8 L965.6 789.6 L966.6 789.7 L967.6 788.3 L968.6 789.1 L969.6 790.6 L970.6 789.0 L971.7 790.2 L972.7 790.6 L973.7 791.1 L974.7 791.3 L975.7 792.2 L976.8 791.4 L977.8 791.8 L978.8 790.8 L979.8 791.1 L980.9 789.9 L981.9 789.6 L982.9 791.0 L983.9 790.9 L984.9 790.2 L986.0 788.7 L987.0 787.9 L988.0 788.2 L989.0 789.0 L990.0 789.1 L991.1 789.2 L992.1 788.8 L993.1 789.7 L994.1 788.7 L995.2 787.8 L996.2 788.4 L997.2 788.1 L998.2 787.6 L999.2 786.9 L1000.2 786.7 L1001.2 787.3 L1002.2 787.5 L1003.2 786.2 L1004.2 786.7 L1005.2 786.9 L1006.2 785.9 L1007.2 786.7 L1008.2 786.4 L1009.2 786.1 L1010.2 786.9 L1011.2 787.9 L1012.3 786.9 L1013.3 787.1 L1014.3 786.0 L1015.3 788.1 L1016.3 787.1 L1017.3 787.9 L1018.3 786.8 L1019.3 787.3 L1020.3 788.5 L1021.3 785.5 L1022.3 785.1 L1023.3 785.7 L1024.3 785.6 L1025.3 784.9 L1026.4 786.9 L1027.5 786.5 L1028.5 784.6 L1029.6 785.4 L1030.7 783.7 L1031.8 784.9 L1032.8 784.3 L1033.9 784.4 L1035.0 785.5 L1036.0 785.3 L1037.1 783.7 L1038.2 782.2 L1039.3 776.3 L1040.5 776.5 L1041.7 775.1 L1042.8 775.4 L1044.0 775.2 L1045.0 775.6 L1046.0 773.3 L1047.1 773.4 L1048.1 774.5 L1049.1 775.3 L1050.1 775.9 L1051.1 773.5 L1052.1 774.0 L1053.2 774.7 L1054.2 777.1 L1055.2 775.7 L1056.2 775.3 L1057.2 775.3 L1058.2 776.1 L1059.3 775.5 L1060.3 776.5 L1061.3 775.5 L1062.3 775.7 L1063.3 775.2 L1064.3 775.4 L1065.4 774.8 L1066.4 773.6 L1067.4 775.1 L1068.4 775.4 L1069.4 775.0 L1070.4 775.3 L1071.5 776.2 L1072.5 775.2 L1073.5 775.1 L1074.5 775.7 L1075.5 776.1 L1076.5 775.7 L1077.5 773.7 L1078.6 775.3 L1079.6 775.6 L1080.6 775.6 L1081.6 775.3 L1082.6 775.6 L1083.6 775.2 L1084.6 774.4 L1085.6 774.0 L1086.7 773.8 L1087.7 773.7 L1088.7 773.1 L1089.7 774.3 L1089.7 818 Z" fill="#cbdae6"/>
<path d="M1089.7 818 L1089.7 774.3 L1090.7 773.6 L1091.7 774.8 L1092.7 774.3 L1093.8 775.2 L1094.8 776.8 L1095.8 777.0 L1096.8 776.4 L1097.8 776.6 L1098.8 776.9 L1099.8 775.5 L1100.8 775.5 L1101.9 776.2 L1102.9 776.2 L1103.9 776.8 L1104.9 777.8 L1105.9 778.6 L1106.9 779.4 L1107.9 779.8 L1108.9 779.3 L1110.0 779.2 L1111.0 778.9 L1112.0 778.7 L1113.0 778.8 L1114.0 777.1 L1115.0 777.0 L1116.0 777.1 L1117.0 776.3 L1118.0 776.5 L1119.1 777.1 L1120.1 776.9 L1121.1 778.7 L1122.1 775.8 L1123.1 775.7 L1124.1 774.1 L1125.1 775.4 L1126.1 777.8 L1127.1 774.9 L1128.1 775.1 L1129.2 775.5 L1130.2 775.0 L1131.2 775.3 L1132.2 773.0 L1133.2 774.0 L1134.2 774.4 L1134.2 818 Z" fill="#2e6da8"/>
<text x="193.6" y="813.5" font-size="13" fill="#5c646c" font-weight="normal" text-anchor="start" textLength="31" lengthAdjust="spacingAndGlyphs" >2008</text>
<text x="378.4" y="813.5" font-size="13" fill="#5c646c" font-weight="normal" text-anchor="start" textLength="31" lengthAdjust="spacingAndGlyphs" >2010</text>
<text x="562.6" y="813.5" font-size="13" fill="#5c646c" font-weight="normal" text-anchor="start" textLength="31" lengthAdjust="spacingAndGlyphs" >2012</text>
<text x="747.3000000000001" y="813.5" font-size="13" fill="#5c646c" font-weight="normal" text-anchor="start" textLength="31" lengthAdjust="spacingAndGlyphs" >2014</text>
<text x="932.5" y="813.5" font-size="13" fill="#5c646c" font-weight="normal" text-anchor="start" textLength="31" lengthAdjust="spacingAndGlyphs" >2016</text>
<rect x="1112.8" y="769" width="1" height="49" fill="#000" opacity="0.2"/>
<text x="1117.3" y="813.5" font-size="13" fill="#3a6890" font-weight="normal" text-anchor="start" textLength="31" lengthAdjust="spacingAndGlyphs" >2018</text>
<clipPath id="rclip"><rect x="1134.2" y="760" width="20" height="60"/></clipPath>
<text x="1117.3" y="813.5" font-size="13" fill="#646e78" font-weight="normal" text-anchor="start" textLength="31" lengthAdjust="spacingAndGlyphs" clip-path="url(#rclip)">2018</text>
<path d="M84 768.5 H1089.5 V818 M1134.5 818 V768.5 H1149" fill="none" stroke="#333" stroke-width="1"/>
<rect x="84" y="818" width="1065" height="14" fill="url(#track)"/>
<rect x="84" y="818" width="1065" height="1" fill="#c9cdd1"/>
<rect x="84" y="832" width="1065" height="1" fill="#cfcfcf"/>
<rect x="83.8" y="818.8" width="13.6" height="13.4" rx="2" fill="url(#thumb)" stroke="#666" stroke-width="1"/>
<path d="M92.2 823.2 L88.6 825.6 L92.2 828 Z" fill="#444"/>
<rect x="1089.6" y="818.8" width="44.6" height="13.4" rx="2" fill="url(#thumb)" stroke="#666" stroke-width="1"/>
<path d="M1108.3 822.6 V828 M1111.4 822.6 V828 M1114.6 822.6 V828" stroke="#333" stroke-width="1"/>
<rect x="1135" y="818.8" width="13.6" height="13.4" rx="2" fill="url(#thumb)" stroke="#666" stroke-width="1"/>
<path d="M1141.2 823.3 L1144.4 825.8 L1141.2 828.3 Z" fill="#444"/>
<rect x="1084.8" y="785.6" width="7.2" height="14.5" rx="2.2" fill="#fff" stroke="#555" stroke-width="1"/>
<path d="M1087.3999999999999 789 V797 M1089.6 789 V797" stroke="#333" stroke-width="0.9"/>
<rect x="1131.3" y="785.6" width="7.2" height="14.5" rx="2.2" fill="#fff" stroke="#555" stroke-width="1"/>
<path d="M1133.8999999999999 789 V797 M1136.1 789 V797" stroke="#333" stroke-width="0.9"/>
</svg>
</body></html>
